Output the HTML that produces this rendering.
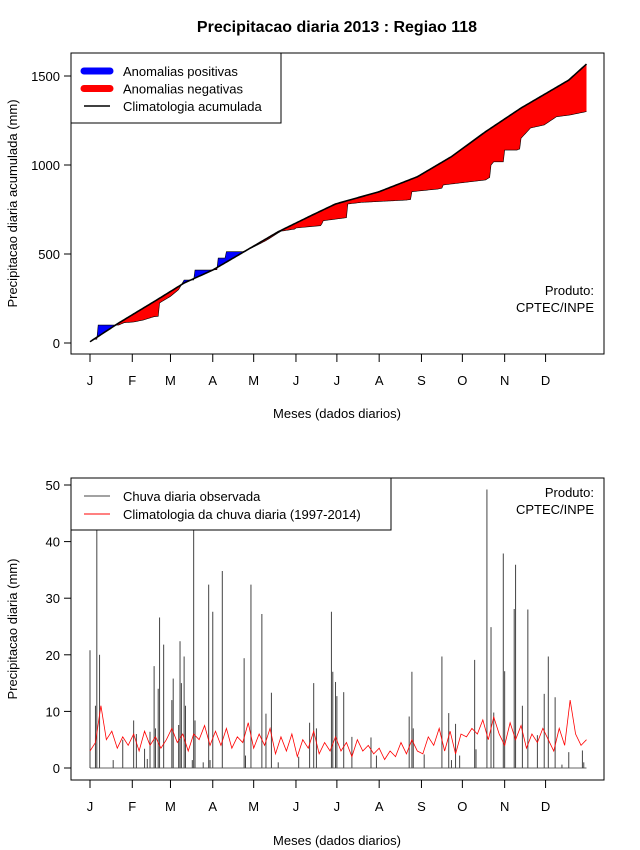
<!DOCTYPE html>
<html><head><meta charset="utf-8"><style>
body{margin:0;background:#fff}
svg{display:block;font-family:"Liberation Sans",sans-serif}
</style></head><body>
<svg id="s" width="640" height="850" viewBox="0 0 640 850">
<rect width="640" height="850" fill="#fff"/>
<text x="337" y="32" text-anchor="middle" font-size="16" font-weight="bold">Precipitacao diaria 2013 : Regiao 118</text>
<g id="top"></g>
<g id="bot"></g>
</svg>
<script>
// ---- top panel data ----
const climDays = [1,22,50,70,91,114,139,164,181,213,241,266,291,317,342,352,365];
const climAcc  = [7,112,242,337,410,513,625,719,781,850,934,1047,1187,1320,1432,1477,1567];
const obsDays = [1,4,6,7,22,26,33,40,48,51,52,60,66,70,77,78,89,94,95,100,101,113,120,130,141,151,152,170,171,172,185,189,190,200,233,236,237,256,259,260,291,294,295,297,304,305,314,316,317,324,334,343,353,365];
const obsAcc  = [7,21,21,101,101,114,118,129,148,150,225,262,300,354,354,410,410,412,477,477,513,513,536,575,628,640,646,659,670,687,700,704,781,790,803,806,850,865,870,888,916,930,1000,1018,1018,1084,1084,1090,1150,1208,1225,1271,1281,1300];
const topYTicks = [0,500,1000,1500];
const monthLabels = ["J","F","M","A","M","J","J","A","S","O","N","D"];
const monthStartDays = [1,32,60,91,121,152,182,213,244,274,305,335];
// ---- bottom panel data ----
const rainDays = [1,5,6,8,18,25,33,35,41,43,45,48,49,51,52,55,61,62,66,67,68,70,71,76,77,78,84,88,89,91,98,114,115,119,127,130,134,139,154,162,165,167,178,179,181,182,187,193,207,211,235,237,238,246,259,264,266,269,272,283,284,292,295,297,304,305,312,313,318,322,329,334,337,342,347,352,362,363];
const rainVals = [20.8,11,42,20,1.4,5,8.4,6,3.4,1.6,6.4,18,7,14,26.6,21.8,12,15.8,7.6,22.4,15,19.7,11,1.4,42,8.4,1,32.4,1.4,27.6,34.8,19.4,2.2,32.4,27.2,9.6,13.3,1,2,8,15,7,27.6,17,15.2,12.7,13.4,5.5,5.4,2.2,9.1,17,7,2.4,19.7,9.7,1.4,7.8,2.2,19.1,3.3,49.2,24.9,9.8,37.9,17.1,28.1,35.9,11,28,5.8,13.1,19.7,12.5,0.6,2.8,3.1,1];
const climDaily = [3,4.5,11,5,6.5,3.5,5.5,4, 6,3,6.5,4,5.5,3.5,5, 7,4.5,6,3,6,5,7.5,4, 6.5,4,7,3.5,5.5,4.5,8, 3.5,6,4,7,2.5,5.5,3,6, 2,5,3.5,6.5,2.5,4.5,3, 5.5,3,4.5,2,5,3,4,2.5, 3.5,1.5,3,2,4.5,2.5,5,3, 2.5,5.5,4,7,3,6.5,2.5, 6,5.5,7,6,8.5,5,9,6, 4,8,5,7.5,3.5,6,4.5,7, 5,3,7,4,12,6,4,5];
const climDailyStep = 4;
const botYTicks = [0,10,20,30,40,50];

const NS="http://www.w3.org/2000/svg";
function mk(p,t,a){const e=document.createElementNS(NS,t);for(const k in a)e.setAttribute(k,a[k]);p.appendChild(e);return e;}
const xD = d => 90 + (d-1)*1.364;
const yT = v => 343 - v*0.178;
const yB = v => 768 - v*5.66;
function interp(xs,ys,d){for(let i=0;i<xs.length-1;i++){if(d<=xs[i+1]){const t=(d-xs[i])/(xs[i+1]-xs[i]);return ys[i]+t*(ys[i+1]-ys[i]);}}return ys[ys.length-1];}

function axes(g,y0,y1,yTicks,yf,ylabel,xlabY,xtY){
  const frame=mk(g,'rect',{x:71,y:y0,width:533,height:y1-y0,fill:'none',stroke:'#000','stroke-width':1});
  
  yTicks.forEach(v=>{const y=yf(v);
    const l=mk(g,'line',{x1:64,x2:71,y1:y,y2:y,stroke:'#000'});
    
    const t=mk(g,'text',{x:60,y:y+5,'text-anchor':'end','font-size':13});t.textContent=v;
    });
  monthStartDays.forEach((d,i)=>{const x=xD(d);
    const l=mk(g,'line',{x1:x,x2:x,y1:y1,y2:y1+8,stroke:'#000'});
    
    const t=mk(g,'text',{x:x,y:xtY,'text-anchor':'middle','font-size':13});t.textContent=monthLabels[i];
    });
  const xt=mk(g,'text',{x:337,y:xlabY,'text-anchor':'middle','font-size':13});xt.textContent='Meses (dados diarios)';
  
  const cy=(y0+y1)/2;
  const yt=mk(g,'text',{x:17,y:cy,'text-anchor':'middle','font-size':13,transform:`rotate(-90 17 ${cy})`});yt.textContent=ylabel;
  
}

// ---- top ----
const topG=document.getElementById('top');
const days=[];for(let d=1;d<=365;d++)days.push(d);
const climPts=days.map(d=>[xD(d),yT(interp(climDays,climAcc,d))]);
const obsPts=days.map(d=>[xD(d),yT(interp(obsDays,obsAcc,d))]);
const defs=mk(topG,'defs',{});
const cpA=mk(defs,'clipPath',{id:'above'});
mk(cpA,'polygon',{points:climPts.map(p=>p.join(',')).join(' ')+` ${xD(365)},0 ${xD(1)},0`});
const cpB=mk(defs,'clipPath',{id:'below'});
mk(cpB,'polygon',{points:climPts.map(p=>p.join(',')).join(' ')+` ${xD(365)},400 ${xD(1)},400`});
const band=obsPts.map(p=>p.join(',')).join(' ')+' '+climPts.slice().reverse().map(p=>p.join(',')).join(' ');
const pos=mk(topG,'polygon',{points:band,fill:'#0000ff','clip-path':'url(#above)'});

const neg=mk(topG,'polygon',{points:band,fill:'#ff0000','clip-path':'url(#below)'});

const ol=mk(topG,'polyline',{points:obsPts.map(p=>p.join(',')).join(' '),fill:'none',stroke:'#000','stroke-width':0.6});

const cl=mk(topG,'polyline',{points:climPts.map(p=>p.join(',')).join(' '),fill:'none',stroke:'#000','stroke-width':1.6});

axes(topG,53,354,topYTicks,yT,'Precipitacao diaria acumulada (mm)',418,385);
const lg=mk(topG,'g',{});
mk(lg,'rect',{x:71,y:53,width:210,height:70,fill:'#fff',stroke:'#000'});
[['#0000ff',7,'Anomalias positivas'],['#ff0000',7,'Anomalias negativas'],['#000',1.5,'Climatologia acumulada']].forEach((e,i)=>{
  const y=71+i*17.5;
  const ln=mk(lg,'line',{x1:84,x2:110,y1:y,y2:y,stroke:e[0],'stroke-width':e[1],'stroke-linecap':e[1]>2?'round':'butt'});
  
  const t=mk(lg,'text',{x:123,y:y+5,'font-size':13});t.textContent=e[2];
  });
[['Produto:',295],['CPTEC/INPE',312]].forEach(e=>{const t=mk(topG,'text',{x:594,y:e[1],'text-anchor':'end','font-size':13});t.textContent=e[0];
  });

// ---- bottom ----
const botG=document.getElementById('bot');
const zl=mk(botG,'line',{x1:xD(1),x2:xD(365),y1:yB(0),y2:yB(0),stroke:'#666','stroke-width':1});

rainDays.forEach((d,i)=>{
  const b=mk(botG,'line',{x1:xD(d),x2:xD(d),y1:yB(0),y2:yB(rainVals[i]),stroke:'#444','stroke-width':1});
  });
const cdp=climDaily.map((v,i)=>[xD(1+i*climDailyStep),yB(v)]);
const cdl=mk(botG,'polyline',{points:cdp.map(p=>p.join(',')).join(' '),fill:'none',stroke:'#ff0000','stroke-width':0.8});

axes(botG,478,780,botYTicks,yB,'Precipitacao diaria (mm)',845,811);
const lg2=mk(botG,'g',{});
mk(lg2,'rect',{x:71,y:478,width:320,height:52,fill:'#fff',stroke:'#000'});
[['#444','Chuva diaria observada'],['#ff0000','Climatologia da chuva diaria (1997-2014)']].forEach((e,i)=>{
  const y=496+i*18;
  const ln=mk(lg2,'line',{x1:84,x2:110,y1:y,y2:y,stroke:e[0],'stroke-width':1});
  
  const t=mk(lg2,'text',{x:123,y:y+5,'font-size':13});t.textContent=e[1];
  });
[['Produto:',497],['CPTEC/INPE',514]].forEach(e=>{const t=mk(botG,'text',{x:594,y:e[1],'text-anchor':'end','font-size':13});t.textContent=e[0];
  });
</script>
</body></html>
